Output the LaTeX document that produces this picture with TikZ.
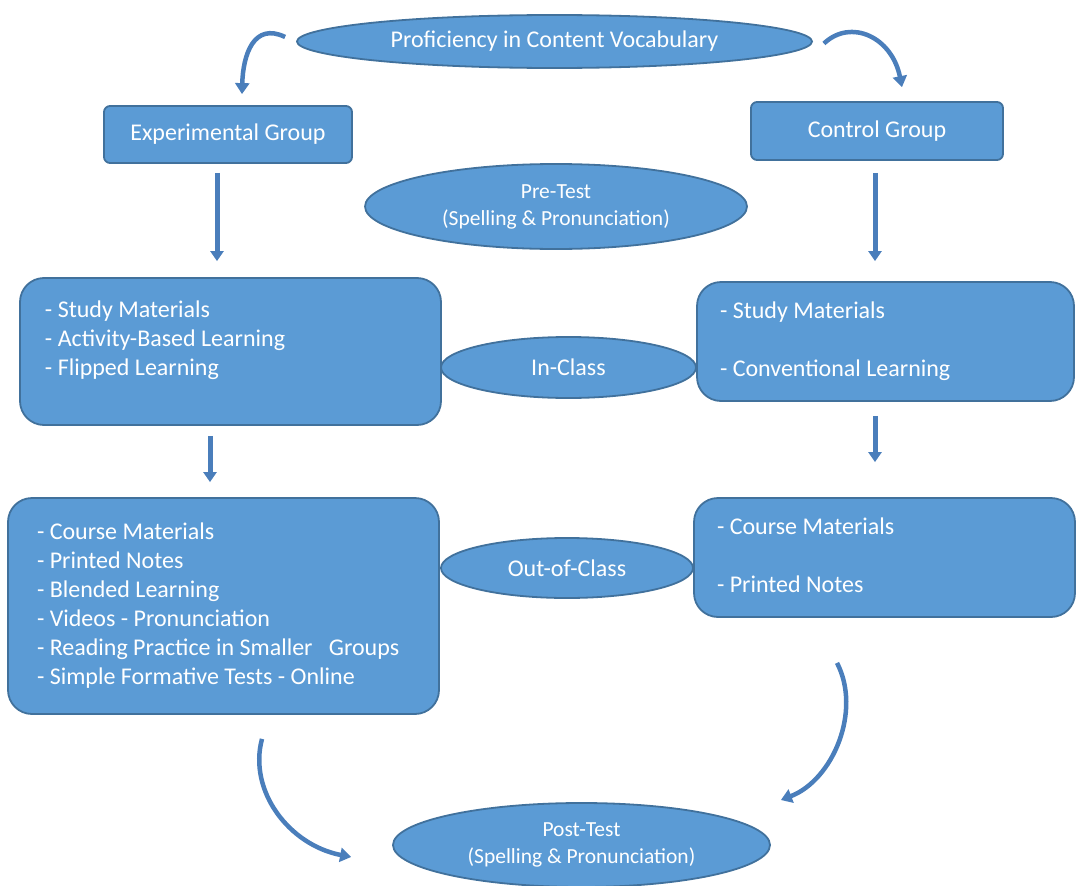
\documentclass[tikz,border=0pt]{standalone}
\usepackage{fontspec}
\setmainfont{Carlito}
\usetikzlibrary{shapes.geometric,arrows.meta}
\definecolor{boxfill}{HTML}{5B9BD5}
\definecolor{boxline}{HTML}{41719C}
\definecolor{arrowc}{HTML}{4A7EBB}
\begin{document}
\begin{tikzpicture}[x=1pt,y=-1pt,
  base/.style={draw=boxline, fill=boxfill, line width=1.8pt, text=white, font=\fontsize{24}{29}\selectfont},
  ell/.style={base, ellipse, inner sep=0pt, align=center},
  smallbox/.style={base, rectangle, rounded corners=6pt, inner sep=0pt},
  bigbox/.style={base, rectangle, rounded corners=24pt, align=flush left, inner ysep=0pt},
  sarrow/.style={draw=arrowc, line width=5pt, -{Triangle[width=13pt,length=10pt]}},
  carrow/.style={draw=arrowc, line width=4.5pt, -{Triangle[width=14pt,length=11pt]}}
]
\useasboundingbox (0,0) rectangle (1077,886);

\node[ell, minimum width=515pt, minimum height=53pt] (top) at (554.5,41.5) {Proficiency in Content Vocabulary};

\node[smallbox, minimum width=248pt, minimum height=57pt] (EG) at (228,134.5) {Experimental Group};
\node[smallbox, minimum width=252pt, minimum height=58pt] (CG) at (877,131) {Control Group};

\node[ell, minimum width=382pt, minimum height=85pt, font=\fontsize{21.5}{27}\selectfont] (pre) at (556,206.5) {Pre-Test\\(Spelling \& Pronunciation)};

\node[bigbox, inner xsep=25pt, text width=371pt, minimum height=147pt] (L1) at (230.5,351.5)
  {\strut- Study Materials\\\strut- Activity-Based Learning\\\strut- Flipped Learning\\[-8pt]\strut};
\node[bigbox, inner xsep=23pt, text width=331pt, minimum height=119pt] (R1) at (885.5,341.5)
  {\strut- Study Materials\\\strut\\\strut- Conventional Learning};
\node[ell, minimum width=255pt, minimum height=61pt] (inclass) at (568.5,367.5) {In-Class};

\node[bigbox, inner xsep=29pt, text width=373pt, minimum height=216pt] (L2) at (223.5,606)
  {\strut- Course Materials\\\strut- Printed Notes\\\strut- Blended Learning\\\strut- Videos - Pronunciation\\\strut- Reading Practice in Smaller\ \ \ Groups\\\strut- Simple Formative Tests - Online};
\node[bigbox, inner xsep=23pt, text width=335pt, minimum height=119pt] (R2) at (884.5,557.5)
  {\strut- Course Materials\\\strut\\\strut- Printed Notes};
\node[ell, minimum width=252pt, minimum height=60pt] (outclass) at (567,568) {Out-of-Class};

\node[ell, minimum width=377pt, minimum height=84pt, font=\fontsize{21.5}{27}\selectfont] (post) at (581.5,845) {Post-Test\\(Spelling \& Pronunciation)};

% straight arrows
\draw[sarrow] ([shift={(-11,9)}]EG.south) -- ([shift={(-13.5,-16)}]L1.north);
\draw[sarrow] ([shift={(-2,12)}]CG.south) -- ([shift={(-10.5,-20)}]R1.north);
\draw[sarrow] ([shift={(-20.5,10)}]L1.south) -- ([shift={(-13.5,-15)}]L2.north);
\draw[sarrow] ([shift={(-10.5,14)}]R1.south) -- ([shift={(-9.5,-35)}]R2.north);

% curved arrows
\draw[carrow] ([shift={(-11,-4.5)}]top.west) .. controls +(-31,-15) and +(1,-40) .. ([shift={(14,-11)}]EG.north);
\draw[carrow] ([shift={(11,2)}]top.east) .. controls +(27,-25.5) and +(-10,-50) .. ([shift={(25,-14)}]CG.north);
\draw[carrow] ([shift={(38.5,24)}]L2.south) .. controls +(-14,52) and +(-62,-12) .. ([shift={(-41,12)}]post.west);
\draw[carrow] ([shift={(-47.5,45)}]R2.south) .. controls +(25,48) and +(52,-20) .. ([shift={(10,-45)}]post.east);
\end{tikzpicture}
\end{document}
